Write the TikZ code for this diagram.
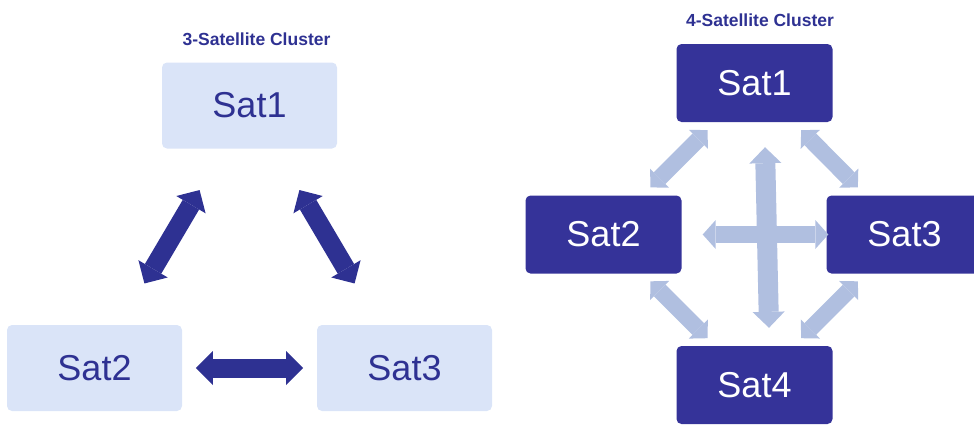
\documentclass[tikz,border=0pt]{standalone}
\usepackage{fontspec}
\setmainfont{Liberation Sans}
\usetikzlibrary{arrows.meta,calc}
\definecolor{navy}{HTML}{2E3192}
\definecolor{boxdark}{HTML}{353399}
\definecolor{boxlight}{HTML}{DAE4F8}
\definecolor{arrlight}{HTML}{B0BFE0}
\begin{document}
\begin{tikzpicture}[x=1pt,y=-1pt,
  lbox/.style={rectangle, rounded corners=5pt, fill=boxlight, text=navy,
    minimum width=175pt, minimum height=86pt, inner sep=0pt,
    font=\fontsize{36}{40}\selectfont},
  dbox/.style={rectangle, rounded corners=5pt, fill=boxdark, text=white,
    minimum width=156pt, minimum height=78pt, inner sep=0pt,
    font=\fontsize{36}{40}\selectfont},
  title/.style={text=navy, inner sep=0pt, font=\bfseries\fontsize{17.5}{20}\selectfont},
  darrow/.style={draw=navy, line width=19pt,
    {Triangle[length=17pt 0 0,width=34pt 0 0,line width=0pt 0 0]}-{Triangle[length=17pt 0 0,width=34pt 0 0,line width=0pt 0 0]}},
  ldiag/.style={draw=arrlight, line width=16.5pt,
    {Triangle[length=13pt 0 0,width=27pt 0 0,line width=0pt 0 0]}-{Triangle[length=13pt 0 0,width=27pt 0 0,line width=0pt 0 0]}},
  lvert/.style={draw=arrlight, line width=20pt,
    {Triangle[length=16pt 0 0,width=32pt 0 0,line width=0pt 0 0]}-{Triangle[length=16pt 0 0,width=32pt 0 0,line width=0pt 0 0]}},
  lhoriz/.style={draw=arrlight, line width=17pt,
    {Triangle[length=13pt 0 0,width=29pt 0 0,line width=0pt 0 0]}-{Triangle[length=13pt 0 0,width=29pt 0 0,line width=0pt 0 0]}},
]
\useasboundingbox (0,0) rectangle (974,424);
\clip (0,0) rectangle (974,424);

% 3-satellite cluster
\node[title] (t1) at (256.5,39) {3-Satellite Cluster};
\node[lbox] (a1) at (249.5,105.5) {Sat1};
\node[lbox] (a2) at (94.5,368) {Sat2};
\node[lbox] (a3) at (404.5,368) {Sat3};
\draw[darrow] ($(a1)!0.322!(a2)$) -- ($(a1)!0.678!(a2)$);
\draw[darrow] ($(a1)!0.322!(a3)$) -- ($(a1)!0.678!(a3)$);
\draw[darrow] ($(a2)!0.327!(a3)$) -- ($(a2)!0.673!(a3)$);

% 4-satellite cluster
\node[title] (t2) at (760,20) {4-Satellite Cluster};
\node[dbox] (b1) at (754.5,83) {Sat1};
\node[dbox] (b2) at (603.5,234.5) {Sat2};
\node[dbox] (b3) at (904.5,234.5) {Sat3};
\node[dbox] (b4) at (754.5,385) {Sat4};
\draw[ldiag] ($(b1)!0.311!(b2)$) -- ($(b1)!0.689!(b2)$);
\draw[ldiag] ($(b1)!0.311!(b3)$) -- ($(b1)!0.689!(b3)$);
\draw[ldiag] ($(b2)!0.311!(b4)$) -- ($(b2)!0.689!(b4)$);
\draw[ldiag] ($(b3)!0.311!(b4)$) -- ($(b3)!0.689!(b4)$);
\draw[lvert] ($(b1.south)+(10.5,25)$) -- ($(b4.north)+(14.5,-18)$);
\draw[lhoriz] ($(b2.east)+(21,0)$) -- ($(b3.west)+(2,0)$);
\end{tikzpicture}
\end{document}
